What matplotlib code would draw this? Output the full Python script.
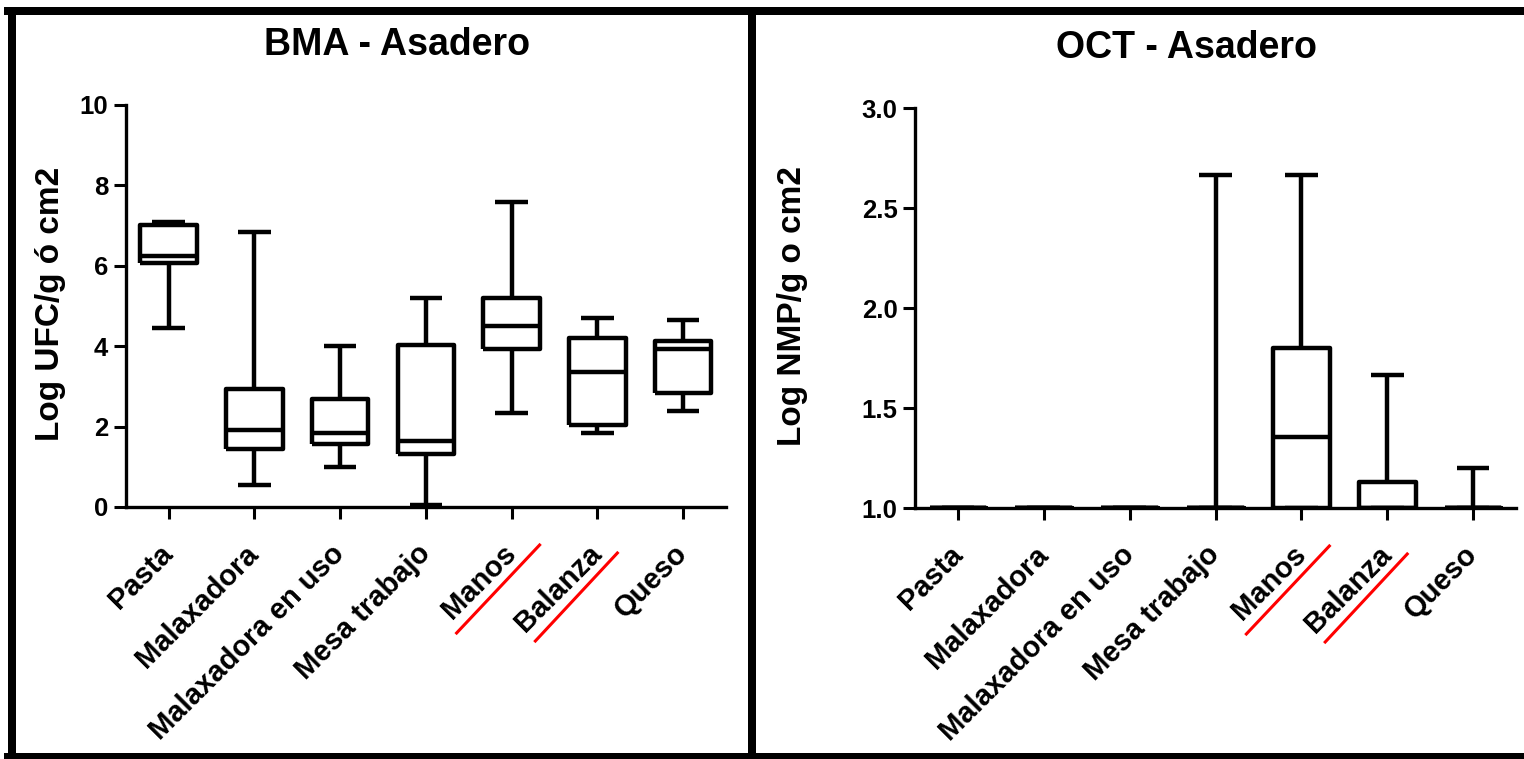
import numpy as np
import matplotlib
matplotlib.use('Agg')
import matplotlib.pyplot as plt
from matplotlib.lines import Line2D
from matplotlib.transforms import blended_transform_factory, ScaledTranslation

plt.rcParams['font.family'] = ['Liberation Sans', 'DejaVu Sans']
plt.rcParams['font.weight'] = 'bold'

categories = ['Pasta', 'Malaxadora', 'Malaxadora en uso', 'Mesa trabajo',
              'Manos', 'Balanza', 'Queso']
marked = ['Manos', 'Balanza']

# BMA - Asadero (Log UFC/g o cm2)
bma_min = [4.45, 0.55, 1.00, 0.05, 2.35, 1.85, 2.40]
bma_q1 = [6.08, 1.45, 1.56, 1.31, 3.94, 2.04, 2.83]
bma_med = [6.25, 1.92, 1.85, 1.64, 4.50, 3.36, 3.93]
bma_q3 = [7.02, 2.94, 2.68, 4.02, 5.19, 4.20, 4.12]
bma_max = [7.10, 6.85, 4.01, 5.19, 7.59, 4.70, 4.65]

# OCT - Asadero (Log NMP/g o cm2)
oct_min = [1.0, 1.0, 1.0, 1.0, 1.0, 1.0, 1.0]
oct_q1 = [1.0, 1.0, 1.0, 1.0, 1.0, 1.0, 1.0]
oct_med = [1.0, 1.0, 1.0, 1.0, 1.355, 1.0, 1.0]
oct_q3 = [1.0, 1.0, 1.0, 1.0, 1.80, 1.13, 1.0]
oct_max = [1.0, 1.0, 1.0, 2.665, 2.665, 1.665, 1.20]

W, H = 1524, 759
fig = plt.figure(figsize=(W / 100, H / 100), dpi=100)


def make_stats(lo, q1, med, q3, hi):
    return [dict(whislo=a, q1=b, med=c, q3=d, whishi=e, fliers=[])
            for a, b, c, d, e in zip(lo, q1, med, q3, hi)]


def panel(rect, stats, ylim, yticks, fmt, title, ylabel, ylab_x, clip):
    ax = fig.add_axes(rect)
    lw = 3.2
    pr = dict(color='black', linewidth=lw, solid_capstyle='butt')
    art = ax.bxp(stats, positions=range(len(categories)), widths=0.66,
                 capwidths=0.38, showfliers=False, patch_artist=False,
                 boxprops=pr, whiskerprops=pr, capprops=pr,
                 medianprops=dict(color='black', linewidth=lw))
    for key in art:
        for a in art[key]:
            a.set_clip_on(clip)
    ax.set_xlim(-0.5, len(categories) - 0.5)
    ax.set_ylim(*ylim)
    ax.set_yticks(yticks)
    ax.set_yticklabels([fmt.format(v) for v in yticks], fontsize=18.5,
                       fontweight='bold')
    ax.set_xticks(range(len(categories)))
    ax.set_xticklabels(categories, rotation=45, ha='right', va='center',
                       rotation_mode='anchor', fontsize=21, fontweight='bold')
    ax.spines['top'].set_visible(False)
    ax.spines['right'].set_visible(False)
    for s in ['left', 'bottom']:
        ax.spines[s].set_linewidth(2.4)
    ax.tick_params(axis='both', direction='out', length=8.6, width=2.2,
                   colors='black')
    ax.tick_params(axis='y', pad=4)
    ax.tick_params(axis='x', pad=22)
    ax.text(0.452, 1.125, title, transform=ax.transAxes, ha='center',
            va='baseline', fontsize=27, fontweight='bold')
    ax.set_ylabel(ylabel, fontsize=24, fontweight='bold')
    ax.yaxis.set_label_coords(ylab_x, 0.505)

    # red strokes under some labels
    base = blended_transform_factory(ax.transData, ax.transAxes)
    offs = {'Manos': ((28, -38), (-55, -126)),
            'Balanza': ((20, -46), (-62, -134))}
    for name in marked:
        i = categories.index(name)
        (x1, y1), (x2, y2) = offs[name]
        tr = ScaledTranslation(i, 0, base)
        ax.add_line(Line2D([x1, x2], [y1, y2], transform=tr, color='red',
                           linewidth=2.2, clip_on=False))
    return ax


panel([125.7 / W, 1 - 507 / H, 600.3 / W, 402 / H],
      make_stats(bma_min, bma_q1, bma_med, bma_q3, bma_max),
      (0, 10), [0, 2, 4, 6, 8, 10], '{:.0f}', 'BMA - Asadero',
      'Log UFC/g ó cm2', -0.0995, False)

panel([915 / W, 1 - 508 / H, 601 / W, 400 / H],
      make_stats(oct_min, oct_q1, oct_med, oct_q3, oct_max),
      (1.0, 3.0), [1.0, 1.5, 2.0, 2.5, 3.0], '{:.1f}', 'OCT - Asadero',
      'Log NMP/g o cm2', -0.178, True)

# black frames around the two panels
frame_lw = 8 * 72 / 100
def px_line(xs, ys):
    fig.add_artist(Line2D([x / W for x in xs], [1 - y / H for y in ys],
                          transform=fig.transFigure, color='black',
                          linewidth=frame_lw, solid_capstyle='projecting'))

px_line([8, W + 5], [11, 11])
px_line([8, W + 5], [757, 757])
px_line([12, 12], [11, 757])
px_line([752, 752], [11, 757])

fig.savefig('out.png', dpi=100)
